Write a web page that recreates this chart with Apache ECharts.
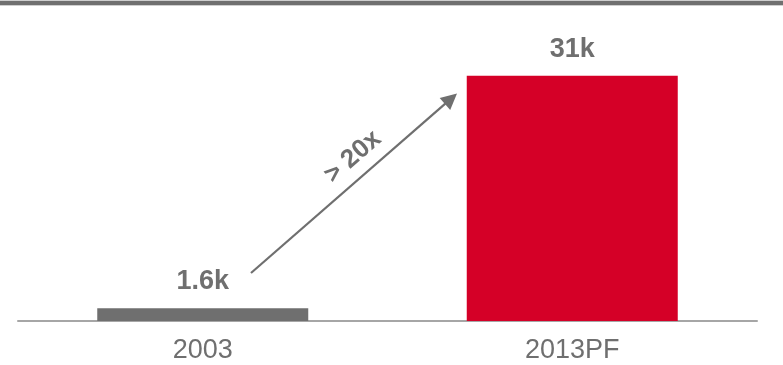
<!DOCTYPE html>
<html>
<head>
<meta charset="utf-8">
<script src="https://cdn.jsdelivr.net/npm/echarts@6/dist/echarts.min.js"></script>
<style>
  html, body { margin: 0; padding: 0; background: #ffffff; }
  #chart { width: 783px; height: 365px; }
</style>
</head>
<body>
<div id="chart"></div>
<script>
// Installed base by year (thousands)
const categories = ['2003', '2013PF'];
const values = [1.6, 31];
const valueLabels = ['1.6k', '31k'];
const barColors = ['#6f6f6f', '#d50027'];
const growthLabel = '> 20x';

const GRAY = '#6f6f6f';
const FONT = 'Liberation Sans, Arial, sans-serif';

const chart = echarts.init(document.getElementById('chart'), null, { renderer: 'canvas' });

const option = {
  animation: false,
  backgroundColor: '#ffffff',
  grid: { left: 18, right: 26, top: 44, bottom: 44 },
  xAxis: {
    type: 'category',
    data: categories,
    axisLine: { show: true, lineStyle: { color: '#a6a6a6', width: 2 } },
    axisTick: { show: false },
    axisLabel: { color: GRAY, fontFamily: FONT, fontSize: 27, margin: 16 }
  },
  yAxis: {
    type: 'value',
    min: 0,
    max: 35,
    show: false,
    splitLine: { show: false }
  },
  series: [{
    type: 'bar',
    barWidth: 211,
    data: values.map((v, i) => ({
      value: v,
      itemStyle: { color: barColors[i] },
      label: { formatter: valueLabels[i] }
    })),
    label: {
      show: true,
      position: 'top',
      distance: 13,
      color: GRAY,
      fontFamily: FONT,
      fontSize: 27,
      fontWeight: 'bold'
    }
  }]
};
chart.setOption(option);

// Growth arrow between the two bars, with its rotated caption
const start = [251, 273];
const tip = [457, 93.5];
const dx = tip[0] - start[0], dy = tip[1] - start[1];
const len = Math.sqrt(dx * dx + dy * dy);
const ux = dx / len, uy = dy / len;
const headLen = 16, headHalf = 8;
const baseX = tip[0] - ux * headLen, baseY = tip[1] - uy * headLen;
const angle = Math.atan2(-dy, dx);

chart.setOption({
  graphic: [
    // header rule
    { type: 'rect', shape: { x: 0, y: 0, width: 783, height: 6 }, style: { fill: '#cfcfcf' }, silent: true },
    { type: 'rect', shape: { x: 0, y: 1, width: 783, height: 4 }, style: { fill: '#707070' }, silent: true },
    {
      type: 'line',
      shape: { x1: start[0], y1: start[1], x2: baseX + ux * 2, y2: baseY + uy * 2 },
      style: { stroke: GRAY, lineWidth: 2.2 },
      silent: true
    },
    {
      type: 'polygon',
      shape: {
        points: [
          [tip[0], tip[1]],
          [baseX - uy * headHalf, baseY + ux * headHalf],
          [baseX + uy * headHalf, baseY - ux * headHalf]
        ]
      },
      style: { fill: GRAY },
      silent: true
    },
    {
      type: 'text',
      x: 353,
      y: 157,
      rotation: angle,
      style: {
        text: growthLabel,
        fill: GRAY,
        font: 'bold 26px ' + FONT,
        align: 'center',
        verticalAlign: 'middle'
      },
      silent: true
    }
  ]
});
</script>
</body>
</html>
